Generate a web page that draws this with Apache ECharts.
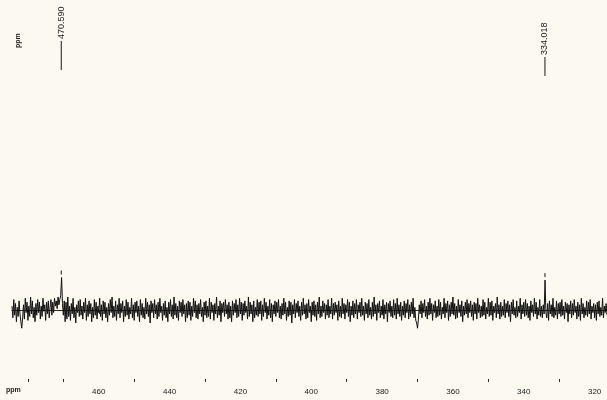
<!DOCTYPE html>
<html>
<head>
<meta charset="utf-8">
<script src="https://cdn.jsdelivr.net/npm/echarts@6/dist/echarts.min.js"></script>
<style>
  html, body { margin: 0; padding: 0; background: #fbf9f0; }
  #chart { width: 607px; height: 400px; }
</style>
</head>
<body>
<div id="chart"></div>
<script>
// spectrum sampling (ppm), left edge of plot to right edge
var ppmStart = 484.5;
var ppmStep = 0.25;

// intensity, baseline = 0
var intensity = [
  3,-6,8,-4,5,-9,2,-5,7,-3,-9,-14,-6,4,-7,9,-2,6,-8,3,
  -5,10,-3,7,-6,2,-9,5,-4,8,-2,6,-7,3,-5,9,-1,4,-8,6,
  -3,7,-6,2,8,-4,6,-2,9,3,7,1,10,4,8,11,25,5,-4,7,
  -9,6,-7,10,-5,3,-8,5,-3,9,-6,2,-10,4,-2,7,-5,8,-4,3,
  -7,6,-2,9,-8,4,-5,7,-3,5,-9,2,-6,8,-4,6,-7,3,-2,9,
  -5,4,-8,7,-3,6,-6,2,-9,5,-4,8,-2,10,-6,3,-5,7,-8,4,
  -3,9,-6,5,-2,7,-9,3,-5,8,-4,6,-7,2,-3,9,-6,4,-8,6,
  -2,7,-5,3,-9,8,-4,5,-6,2,-7,9,-3,6,-5,4,-10,7,-2,5,
  -6,8,-3,4,-7,6,-5,9,-2,3,-8,5,-4,7,-6,2,-9,6,-3,8,
  -5,4,-7,10,-4,5,-6,3,-8,7,-2,6,-5,8,-3,4,-9,5,-6,7,
  -4,6,-8,3,-5,9,-2,7,-6,4,-7,5,-3,8,-5,2,-9,6,-4,7,
  -6,3,-5,9,-7,6,-2,4,-8,5,-3,10,-6,3,-4,7,-9,5,-2,6,
  -5,8,-3,4,-7,6,-6,3,-9,7,-4,5,-2,8,-6,4,-5,9,-3,6,
  -8,5,-4,7,-2,3,-7,10,-5,6,-3,4,-9,7,-6,2,-4,8,-5,6,
  -3,7,-8,4,-5,9,-2,6,-7,3,-4,8,-6,5,-9,4,-3,7,-5,6,
  -2,8,-6,3,-7,5,-4,9,-3,6,-8,2,-5,7,-4,6,-10,4,-3,8,
  -6,5,-2,7,-5,3,-8,6,-4,9,-3,4,-7,5,-6,8,-2,3,-9,6,
  -4,7,-5,4,-8,6,-3,10,-6,3,-5,7,-2,5,-7,4,-4,8,-6,3,
  -3,9,-7,5,-4,6,-2,4,-8,7,-5,3,-6,9,-3,5,-7,4,-2,8,
  -5,6,-9,3,-4,7,-6,5,-3,8,-7,4,-2,6,-5,9,-4,3,-8,6,
  -3,5,-6,8,-4,2,-7,6,-5,10,-3,4,-8,5,-2,7,-6,3,-4,8,
  -7,4,-3,6,-9,5,-2,7,-5,3,-6,8,-4,5,-7,9,-3,4,-5,6,
  -8,3,-4,7,-6,5,-2,8,-7,4,-5,6,-3,9,-6,2,-8,-10,-14,-7,
  4,-3,7,-6,5,-2,8,-5,3,-7,6,-4,9,-3,5,-8,4,-2,7,-6,
  3,-5,8,-4,6,-7,2,-3,9,-6,5,-2,7,-8,4,-5,6,-3,10,-4,
  5,-7,3,-6,8,-2,4,-5,7,-9,3,-4,6,-3,8,-6,5,-2,7,-5,
  4,-8,6,-3,5,-7,9,-2,4,-6,3,-5,8,-4,6,-7,2,-3,9,-5,
  6,-4,7,-8,3,-2,5,-6,10,-3,4,-7,6,-5,3,-4,8,-6,5,-2,
  7,-5,4,-9,6,-3,8,-4,2,-6,7,-5,3,-2,9,-7,4,-3,6,-5,
  8,-4,5,-6,3,-8,7,-2,4,-5,9,-3,6,-7,2,-4,8,-5,3,-6,
  4,-3,23,-2,-6,5,-8,7,-3,4,-5,9,-6,2,-4,7,-7,5,-3,6,
  -5,8,-4,3,-7,6,-2,5,-9,4,-3,7,-6,5,-4,8,-2,3,-7,6,
  -5,4,-8,9,-3,5,-6,2,-4,7,-5,6,-3,8,-7,3,-2,5,-6,4,
  -8,6,-3,7,-5,2,-4,9,-6,3,-2,5,-4
];

// picked peaks
var peakPpm = [470.590, 334.018];
var peakTop = [25, 23];
var peakLabels = ['470.590', '334.018'];

// axis ticks
var majorTicks = [460, 440, 420, 400, 380, 360, 340, 320];
var minorTicks = [480, 470, 450, 430, 410, 390, 370, 350, 330];

var spectrum = intensity.map(function (v, i) {
    return [ppmStart - i * ppmStep, v];
});

var peakData = peakPpm.map(function (p, i) {
    return [p, peakTop[i]];
});

// label placement in pixels: [text bottom, line top, line bottom]
var labelPlace = [[39, 41, 70], [55, 57, 76]];

var myChart = echarts.init(document.getElementById('chart'));
var fontFam = '"Liberation Sans", Arial, sans-serif';

var option = {
    backgroundColor: '#fbf9f0',
    animation: false,
    grid: {
        left: 12,
        right: 0,
        top: 0,
        bottom: 18
    },
    xAxis: [{
        type: 'value',
        inverse: true,
        min: 316.5,
        max: 484.5,
        axisLine: { show: true, lineStyle: { color: '#2a2a2a', width: 1 } },
        axisTick: { show: true, customValues: majorTicks, length: 4, lineStyle: { color: '#2a2a2a' } },
        axisLabel: {
            customValues: majorTicks,
            color: '#222',
            fontSize: 8,
            fontFamily: fontFam,
            margin: 6
        },
        splitLine: { show: false }
    }, {
        type: 'value',
        inverse: true,
        min: 316.5,
        max: 484.5,
        position: 'bottom',
        axisLine: { show: false },
        axisTick: { show: true, inside: true, customValues: minorTicks, length: 3, lineStyle: { color: '#2a2a2a' } },
        axisLabel: { show: false },
        splitLine: { show: false }
    }],
    yAxis: {
        type: 'value',
        min: -55.4,
        max: 238.5,
        show: false
    },
    graphic: [{
        type: 'text',
        left: 6,
        top: 387,
        style: { text: 'ppm', fill: '#222', font: 'bold 7px ' + fontFam }
    }, {
        type: 'text',
        x: 18,
        y: 48,
        rotation: Math.PI / 2,
        style: { text: 'ppm', fill: '#222', font: 'bold 7px ' + fontFam, verticalAlign: 'middle' }
    }],
    series: [{
        type: 'line',
        data: spectrum,
        showSymbol: false,
        lineStyle: { color: '#111', width: 1 },
        z: 2
    }, {
        type: 'custom',
        data: peakData,
        z: 3,
        renderItem: function (params, api) {
            var pt = api.coord([api.value(0), api.value(1)]);
            var pl = labelPlace[params.dataIndex];
            return {
                type: 'group',
                children: [{
                    type: 'line',
                    shape: { x1: pt[0], y1: pt[1] - 7, x2: pt[0], y2: pt[1] - 3 },
                    style: { stroke: '#161616', lineWidth: 1 }
                }, {
                    type: 'line',
                    shape: { x1: pt[0], y1: pl[1], x2: pt[0], y2: pl[2] },
                    style: { stroke: '#161616', lineWidth: 1 }
                }, {
                    type: 'text',
                    x: pt[0],
                    y: pl[0],
                    rotation: Math.PI / 2,
                    style: {
                        text: peakLabels[params.dataIndex],
                        fill: '#222',
                        font: '9px ' + fontFam,
                        textAlign: 'left',
                        textVerticalAlign: 'middle'
                    }
                }]
            };
        }
    }]
};
myChart.setOption(option);
</script>
</body>
</html>
